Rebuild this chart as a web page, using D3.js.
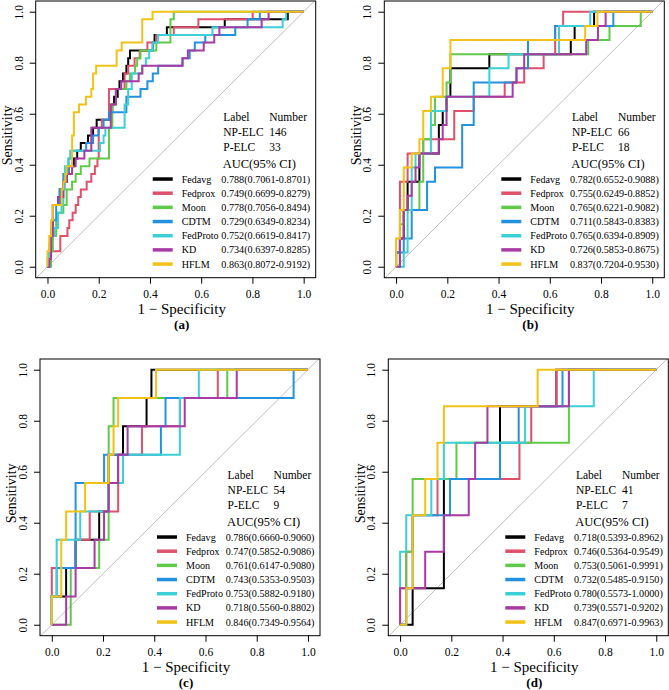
<!DOCTYPE html>
<html>
<head>
<meta charset="utf-8">
<script src="https://cdn.jsdelivr.net/npm/d3@7"></script>
<style>
  body { margin: 0; background: #fff; }
  svg text { font-family: "Liberation Serif", "Times New Roman", serif; fill: #000; }
</style>
</head>
<body>
<div id="rocChart"></div>
<script>
var models = ["Fedavg", "Fedprox", "Moon", "CDTM", "FedProto", "KD", "HFLM"];
var colors = ["#000000", "#E0506B", "#61C94A", "#2491E0", "#3CCFD6", "#A83AA3", "#F2C218"];
var panelTags = ["(a)", "(b)", "(c)", "(d)"];
var npElc = [146, 66, 54, 41];
var pElc = [33, 18, 9, 7];
var ticks = [0, 0.2, 0.4, 0.6, 0.8, 1];

var aucA = ["0.788(0.7061-0.8701)", "0.749(0.6699-0.8279)", "0.778(0.7056-0.8494)", "0.729(0.6349-0.8234)", "0.752(0.6619-0.8417)", "0.734(0.6397-0.8285)", "0.863(0.8072-0.9192)"];
var aucB = ["0.782(0.6552-0.9088)", "0.755(0.6249-0.8852)", "0.765(0.6221-0.9082)", "0.711(0.5843-0.8383)", "0.765(0.6394-0.8909)", "0.726(0.5853-0.8675)", "0.837(0.7204-0.9530)"];
var aucC = ["0.786(0.6660-0.9060)", "0.747(0.5852-0.9086)", "0.761(0.6147-0.9080)", "0.743(0.5353-0.9503)", "0.753(0.5882-0.9180)", "0.718(0.5560-0.8802)", "0.846(0.7349-0.9564)"];
var aucD = ["0.718(0.5393-0.8962)", "0.746(0.5364-0.9549)", "0.753(0.5061-0.9991)", "0.732(0.5485-0.9150)", "0.780(0.5573-1.0000)", "0.739(0.5571-0.9202)", "0.847(0.6971-0.9963)"];

// ROC corners [1-specificity, sensitivity]: move right to x, then up to y
var fedavgA = [[0,0],[0.007,0.061],[0.014,0.152],[0.021,0.242],[0.048,0.303],[0.062,0.333],[0.075,0.364],[0.082,0.394],[0.103,0.424],[0.116,0.455],[0.13,0.485],[0.158,0.515],[0.178,0.545],[0.192,0.576],[0.24,0.606],[0.253,0.636],[0.26,0.667],[0.274,0.697],[0.281,0.727],[0.295,0.758],[0.308,0.788],[0.315,0.818],[0.322,0.848],[0.411,0.879],[0.418,0.909],[0.466,0.939],[0.692,0.97],[0.938,1],[1,1]];
var fedproxA = [[0,0],[0.007,0.061],[0.05,0.121],[0.078,0.152],[0.085,0.182],[0.098,0.212],[0.11,0.242],[0.12,0.273],[0.13,0.303],[0.153,0.333],[0.171,0.364],[0.185,0.394],[0.195,0.424],[0.2,0.545],[0.212,0.576],[0.24,0.697],[0.301,0.758],[0.315,0.788],[0.34,0.818],[0.36,0.848],[0.39,0.879],[0.425,0.909],[0.493,0.939],[0.589,0.97],[0.801,1],[1,1]];
var moonA = [[0,0],[0.014,0.061],[0.021,0.121],[0.034,0.182],[0.041,0.212],[0.062,0.242],[0.075,0.303],[0.096,0.333],[0.11,0.364],[0.13,0.394],[0.164,0.424],[0.24,0.545],[0.253,0.636],[0.267,0.697],[0.308,0.727],[0.322,0.758],[0.342,0.788],[0.35,0.818],[0.363,0.848],[0.425,0.879],[0.48,0.97],[0.493,1],[1,1]];
var cdtmA = [[0,0],[0.007,0.061],[0.014,0.121],[0.021,0.182],[0.034,0.242],[0.048,0.303],[0.062,0.364],[0.082,0.424],[0.096,0.455],[0.151,0.485],[0.178,0.515],[0.199,0.545],[0.219,0.576],[0.24,0.606],[0.308,0.667],[0.363,0.697],[0.39,0.727],[0.411,0.758],[0.432,0.788],[0.527,0.818],[0.555,0.848],[0.575,0.879],[0.616,0.909],[0.733,0.939],[0.781,0.97],[0.829,1],[1,1]];
var fedprotoA = [[0,0],[0,0.03],[0.007,0.091],[0.014,0.121],[0.027,0.152],[0.041,0.212],[0.055,0.242],[0.062,0.303],[0.068,0.394],[0.082,0.424],[0.089,0.455],[0.205,0.485],[0.219,0.515],[0.226,0.545],[0.301,0.636],[0.315,0.697],[0.329,0.758],[0.37,0.788],[0.384,0.818],[0.397,0.848],[0.411,0.879],[0.432,0.909],[0.644,0.939],[0.918,0.97],[0.932,1],[1,1]];
var kdA = [[0,0],[0.007,0.03],[0.014,0.121],[0.021,0.242],[0.041,0.273],[0.062,0.333],[0.075,0.364],[0.096,0.394],[0.11,0.424],[0.144,0.455],[0.171,0.545],[0.247,0.636],[0.267,0.697],[0.288,0.727],[0.356,0.758],[0.37,0.788],[0.527,0.818],[0.548,0.848],[0.61,0.879],[0.651,0.909],[0.671,0.939],[0.836,0.97],[0.863,1],[1,1]];
var hflmA = [[0,0],[0,0.061],[0.007,0.121],[0.014,0.182],[0.021,0.242],[0.055,0.303],[0.062,0.333],[0.07,0.364],[0.075,0.394],[0.096,0.515],[0.103,0.606],[0.123,0.636],[0.15,0.667],[0.171,0.697],[0.178,0.758],[0.19,0.788],[0.27,0.848],[0.29,0.879],[0.37,0.97],[0.41,1],[1,1]];

var fedavgB = [[0,0],[0,0.056],[0.015,0.111],[0.03,0.222],[0.045,0.333],[0.091,0.444],[0.167,0.556],[0.182,0.611],[0.197,0.667],[0.212,0.778],[0.364,0.833],[0.682,0.889],[0.697,0.944],[0.773,1],[1,1]];
var fedproxB = [[0,0],[0,0.056],[0.015,0.333],[0.045,0.444],[0.106,0.5],[0.227,0.611],[0.303,0.667],[0.424,0.722],[0.5,0.778],[0.576,0.833],[0.621,0.944],[0.652,1],[1,1]];
var moonB = [[0,0],[0.015,0.167],[0.03,0.222],[0.091,0.333],[0.106,0.5],[0.136,0.556],[0.152,0.667],[0.197,0.722],[0.212,0.833],[0.712,0.833],[0.75,0.889],[0.833,0.944],[0.955,1],[1,1]];
var cdtmB = [[0,0],[0,0.056],[0.03,0.111],[0.061,0.222],[0.121,0.333],[0.152,0.389],[0.258,0.556],[0.303,0.722],[0.47,0.778],[0.515,0.889],[0.621,0.944],[0.848,1],[1,1]];
var fedprotoB = [[0,0],[0.03,0.056],[0.045,0.222],[0.061,0.389],[0.076,0.444],[0.136,0.611],[0.197,0.667],[0.364,0.778],[0.439,0.833],[0.636,0.944],[0.758,1],[1,1]];
var kdB = [[0,0],[0.015,0.111],[0.03,0.222],[0.045,0.278],[0.061,0.333],[0.076,0.389],[0.091,0.444],[0.167,0.5],[0.182,0.556],[0.197,0.667],[0.455,0.722],[0.47,0.778],[0.5,0.833],[0.742,0.889],[0.788,0.944],[0.818,1],[1,1]];
var hflmB = [[0,0],[0,0.111],[0.015,0.222],[0.03,0.389],[0.061,0.444],[0.091,0.5],[0.106,0.611],[0.136,0.667],[0.182,0.778],[0.212,0.889],[0.738,0.944],[0.786,1],[1,1]];

var fedavgC = [[0,0],[0,0.111],[0.056,0.222],[0.093,0.333],[0.185,0.444],[0.222,0.667],[0.278,0.778],[0.37,0.889],[0.389,1],[1,1]];
var fedproxC = [[0,0],[0,0.222],[0.093,0.333],[0.148,0.444],[0.259,0.667],[0.352,0.778],[0.5,0.889],[0.648,1],[1,1]];
var moonC = [[0,0],[0.074,0.222],[0.185,0.333],[0.222,0.778],[0.241,0.889],[0.685,1],[1,1]];
var cdtmC = [[0,0],[0,0.111],[0.019,0.222],[0.093,0.556],[0.204,0.667],[0.426,0.778],[0.444,0.889],[0.944,1],[1,1]];
var fedprotoC = [[0,0],[0,0.111],[0.019,0.333],[0.111,0.444],[0.222,0.556],[0.278,0.667],[0.5,0.889],[0.574,1],[1,1]];
var kdC = [[0,0],[0.056,0.111],[0.093,0.222],[0.167,0.333],[0.204,0.444],[0.222,0.556],[0.259,0.667],[0.296,0.778],[0.519,0.889],[0.722,1],[1,1]];
var hflmC = [[0,0],[0,0.111],[0.037,0.333],[0.056,0.444],[0.13,0.556],[0.222,0.667],[0.241,0.778],[0.259,0.889],[0.407,1],[1,1]];

var fedavgD = [[0,0],[0.049,0.143],[0.171,0.571],[0.39,0.857],[0.61,1],[1,1]];
var fedproxD = [[0,0],[0,0.143],[0.024,0.286],[0.049,0.429],[0.146,0.571],[0.466,0.714],[0.512,0.857],[0.61,1],[1,1]];
var moonD = [[0,0],[0.024,0.286],[0.049,0.571],[0.22,0.714],[0.659,1],[1,1]];
var cdtmD = [[0,0],[0.024,0.143],[0.049,0.429],[0.195,0.571],[0.39,0.714],[0.463,0.857],[0.634,1],[1,1]];
var fedprotoD = [[0,0],[0,0.286],[0.024,0.429],[0.122,0.571],[0.171,0.714],[0.488,0.857],[0.756,1],[1,1]];
var kdD = [[0,0],[0,0.143],[0.098,0.286],[0.171,0.429],[0.268,0.571],[0.293,0.714],[0.341,0.857],[0.659,1],[1,1]];
var hflmD = [[0,0],[0.024,0.143],[0.049,0.429],[0.098,0.571],[0.146,0.714],[0.171,0.857],[0.537,1],[1,1]];

var panels = [
  {left: 35.7, top: 1, roc: [fedavgA, fedproxA, moonA, cdtmA, fedprotoA, kdA, hflmA], auc: aucA},
  {left: 384.3, top: 1, roc: [fedavgB, fedproxB, moonB, cdtmB, fedprotoB, kdB, hflmB], auc: aucB},
  {left: 40, top: 359, roc: [fedavgC, fedproxC, moonC, cdtmC, fedprotoC, kdC, hflmC], auc: aucC},
  {left: 388.3, top: 359, roc: [fedavgD, fedproxD, moonD, cdtmD, fedprotoD, kdD, hflmD], auc: aucD}
];

var boxW = 280, boxH = 276.7;

var svg = d3.select("#rocChart")
  .append("svg")
  .attr("width", 669)
  .attr("height", 690);

svg.append("rect")
  .attr("width", 669)
  .attr("height", 690)
  .attr("fill", "#fff");

// shrink a font size until the string fits the given width
function fitSize(str, width, base) {
  var probe = svg.append("text").attr("font-size", base + "px").text(str);
  var w = probe.node().getComputedTextLength();
  probe.remove();
  return Math.min(base, base * width / w);
}

var valueFs = fitSize(aucA[0], 89, 11.5);
var nameFs = fitSize("FedProto", 37, 11.5);

panels.forEach(function(p, pi) {
  var right = p.left + boxW, bottom = p.top + boxH;

  var x = d3.scaleLinear()
    .domain([-0.046, 1.047])
    .range([p.left, right]);
  var y = d3.scaleLinear()
    .domain([-0.043, 1.042])
    .range([bottom, p.top]);

  var g = svg.append("g");

  g.append("clipPath")
    .attr("id", "clip" + pi)
    .append("rect")
    .attr("x", p.left)
    .attr("y", p.top)
    .attr("width", boxW)
    .attr("height", boxH);

  var plot = g.append("g").attr("clip-path", "url(#clip" + pi + ")");

  // reference diagonal
  plot.append("line")
    .attr("x1", x(-0.1)).attr("y1", y(-0.1))
    .attr("x2", x(1.1)).attr("y2", y(1.1))
    .attr("stroke", "#BEBEBE")
    .attr("stroke-width", 1);

  var line = d3.line()
    .x(function(d) { return x(d[0]); })
    .y(function(d) { return y(d[1]); });

  p.roc.forEach(function(pts, i) {
    var path = [];
    pts.forEach(function(d, k) {
      if (k === 0) { path.push(d); return; }
      path.push([d[0], pts[k - 1][1]]);
      path.push(d);
    });
    plot.append("path")
      .datum(path)
      .attr("fill", "none")
      .attr("stroke", colors[i])
      .attr("stroke-width", 2)
      .attr("d", line);
  });

  g.append("rect")
    .attr("x", p.left)
    .attr("y", p.top)
    .attr("width", boxW)
    .attr("height", boxH)
    .attr("fill", "none")
    .attr("stroke", "#000")
    .attr("stroke-width", 1);

  var xAxis = g.append("g")
    .attr("transform", "translate(0," + bottom + ")")
    .call(d3.axisBottom(x).tickValues(ticks).tickFormat(d3.format(".1f")).tickSize(6).tickPadding(6));
  xAxis.select(".domain").remove();
  xAxis.selectAll("text")
    .style("font-size", "11.5px")
    .style("font-family", "'Liberation Serif', serif");

  var yAxis = g.append("g")
    .attr("transform", "translate(" + p.left + ",0)")
    .call(d3.axisLeft(y).tickValues(ticks).tickFormat(d3.format(".1f")).tickSize(6));
  yAxis.select(".domain").remove();
  yAxis.selectAll("text")
    .attr("x", null)
    .attr("dy", "0.35em")
    .attr("text-anchor", "middle")
    .attr("transform", "translate(-17,0) rotate(-90)")
    .style("font-size", "11.5px")
    .style("font-family", "'Liberation Serif', serif");

  var cx = (p.left + right) / 2 + 6;

  g.append("text")
    .attr("x", cx)
    .attr("y", bottom + 31)
    .attr("dy", "0.35em")
    .attr("text-anchor", "middle")
    .attr("font-size", "15px")
    .text("1 \u2212 Specificity");

  g.append("text")
    .attr("x", cx)
    .attr("y", bottom + 47)
    .attr("dy", "0.35em")
    .attr("text-anchor", "middle")
    .attr("font-size", "13px")
    .attr("font-weight", "bold")
    .text(panelTags[pi]);

  g.append("text")
    .attr("transform", "translate(" + (p.left - 28.5) + "," + ((p.top + bottom) / 2 - 4) + ") rotate(-90)")
    .attr("dy", "0.35em")
    .attr("text-anchor", "middle")
    .attr("font-size", "14px")
    .text("Sensitivity");

  // legend
  var y0 = y(0);
  var leg = g.append("g").attr("font-size", "11.5px");

  var header = [["Label", "Number", 150], ["NP-ELC", npElc[pi], 134.4], ["P-ELC", pElc[pi], 120]];
  header.forEach(function(h) {
    leg.append("text").attr("x", right - 92.4).attr("y", y0 - h[2]).attr("dy", "0.35em").text(h[0]);
    leg.append("text").attr("x", right - 46.4).attr("y", y0 - h[2]).attr("dy", "0.35em").text(h[1]);
  });
  leg.append("text")
    .attr("x", right - 93)
    .attr("y", y0 - 102.7)
    .attr("dy", "0.35em")
    .attr("font-size", "12.5px")
    .text("AUC(95% CI)");

  models.forEach(function(m, i) {
    var ly = y0 - 87.7 + i * 14.17;
    leg.append("line")
      .attr("x1", right - 163).attr("x2", right - 143)
      .attr("y1", ly).attr("y2", ly)
      .attr("stroke", colors[i])
      .attr("stroke-width", 3.5);
    leg.append("text")
      .attr("x", right - 134).attr("y", ly).attr("dy", "0.35em")
      .attr("font-size", nameFs + "px")
      .text(m);
    leg.append("text")
      .attr("x", right - 5.5).attr("y", ly).attr("dy", "0.35em")
      .attr("text-anchor", "end")
      .attr("font-size", valueFs + "px")
      .text(p.auc[i]);
  });
});
</script>
</body>
</html>
